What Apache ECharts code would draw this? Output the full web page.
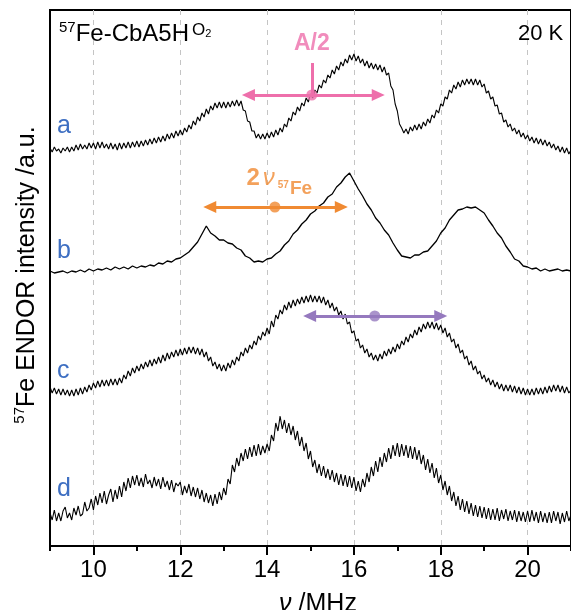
<!DOCTYPE html>
<html><head><meta charset="utf-8">
<script src="https://cdn.jsdelivr.net/npm/echarts@6/dist/echarts.min.js"></script>
<style>html,body{margin:0;padding:0;background:#fff}#c{width:571px;height:610px}</style>
</head><body><div id="c"></div>
<script>
// ---------------- data ----------------
const freq = [
 9,9.1,9.2,9.3,9.4,9.5,9.6,9.7,9.8,9.9,
 10,10.1,10.2,10.3,10.4,10.5,10.6,10.7,10.8,10.9,
 11,11.1,11.2,11.3,11.4,11.5,11.6,11.7,11.8,11.9,
 12,12.1,12.2,12.3,12.4,12.5,12.6,12.7,12.8,12.9,
 13,13.1,13.2,13.3,13.4,13.5,13.6,13.7,13.8,13.9,
 14,14.1,14.2,14.3,14.4,14.5,14.6,14.7,14.8,14.9,
 15,15.1,15.2,15.3,15.4,15.5,15.6,15.7,15.8,15.9,
 16,16.1,16.2,16.3,16.4,16.5,16.6,16.7,16.8,16.9,
 17,17.1,17.2,17.3,17.4,17.5,17.6,17.7,17.8,17.9,
 18,18.1,18.2,18.3,18.4,18.5,18.6,18.7,18.8,18.9,
 19,19.1,19.2,19.3,19.4,19.5,19.6,19.7,19.8,19.9,
 20,20.1,20.2,20.3,20.4,20.5,20.6,20.7,20.8,20.9,
 21];
const freqFine = [
 9,9.05,9.1,9.15,9.2,9.25,9.3,9.35,9.4,9.45,9.5,9.55,9.6,9.65,9.7,9.75,9.8,9.85,9.9,9.95,
 10,10.05,10.1,10.15,10.2,10.25,10.3,10.35,10.4,10.45,10.5,10.55,10.6,10.65,10.7,10.75,10.8,10.85,10.9,10.95,
 11,11.05,11.1,11.15,11.2,11.25,11.3,11.35,11.4,11.45,11.5,11.55,11.6,11.65,11.7,11.75,11.8,11.85,11.9,11.95,
 12,12.05,12.1,12.15,12.2,12.25,12.3,12.35,12.4,12.45,12.5,12.55,12.6,12.65,12.7,12.75,12.8,12.85,12.9,12.95,
 13,13.05,13.1,13.15,13.2,13.25,13.3,13.35,13.4,13.45,13.5,13.55,13.6,13.65,13.7,13.75,13.8,13.85,13.9,13.95,
 14,14.05,14.1,14.15,14.2,14.25,14.3,14.35,14.4,14.45,14.5,14.55,14.6,14.65,14.7,14.75,14.8,14.85,14.9,14.95,
 15,15.05,15.1,15.15,15.2,15.25,15.3,15.35,15.4,15.45,15.5,15.55,15.6,15.65,15.7,15.75,15.8,15.85,15.9,15.95,
 16,16.05,16.1,16.15,16.2,16.25,16.3,16.35,16.4,16.45,16.5,16.55,16.6,16.65,16.7,16.75,16.8,16.85,16.9,16.95,
 17,17.05,17.1,17.15,17.2,17.25,17.3,17.35,17.4,17.45,17.5,17.55,17.6,17.65,17.7,17.75,17.8,17.85,17.9,17.95,
 18,18.05,18.1,18.15,18.2,18.25,18.3,18.35,18.4,18.45,18.5,18.55,18.6,18.65,18.7,18.75,18.8,18.85,18.9,18.95,
 19,19.05,19.1,19.15,19.2,19.25,19.3,19.35,19.4,19.45,19.5,19.55,19.6,19.65,19.7,19.75,19.8,19.85,19.9,19.95,
 20,20.05,20.1,20.15,20.2,20.25,20.3,20.35,20.4,20.45,20.5,20.55,20.6,20.65,20.7,20.75,20.8,20.85,20.9,20.95,
 21];
const traceA = [
 2,-2,3,-1,1,-3,2,-1,3,-2, 3,-1,5,0,6,1,5,1,7,2,
 7,1,8,2,8,2,6,1,7,1, 6,0,7,1,7,2,8,2,8,3,
 9,3,9,4,10,5,11,6,12,7, 13,8,14,9,16,11,17,12,19,14,
 20,15,22,18,25,21,29,25,33,29, 37,33,41,36,44,40,47,42,48,42,
 48,42,48,43,49,44,50,44,49,40, 39,29,28,19,19,12,16,11,16,11,
 17,12,18,13,20,15,22,18,26,23, 32,29,38,35,43,39,47,44,52,48,
 56,52,60,57,65,62,70,67,75,72, 80,76,84,80,88,84,91,87,95,90,
 96,89,94,87,91,84,89,82,87,81, 86,80,85,78,83,75,77,64,60,46,
 39,26,22,17,21,16,23,19,25,20, 26,21,28,24,31,27,35,32,40,37,
 46,44,53,51,60,57,65,61,68,63, 70,65,71,66,71,65,71,65,70,63,
 66,57,59,51,53,44,45,36,37,28, 30,23,26,19,22,16,20,13,17,11,
 15,9,13,7,12,6,11,5,10,4, 8,2,6,0,4,-2,3,-3,2,-4,
 0];
const traceB = [
 1,-1,0,1,-1,1,0,2,0,3,
 1,3,2,4,2,5,3,5,3,6,
 4,6,5,7,6,9,8,11,10,13,
 14,17,20,25,30,38,46,39,36,32,
 32,29,28,24,22,16,14,10,11,10,
 13,14,18,21,27,31,38,42,48,52,
 58,61,66,69,75,78,85,89,95,99,
 91,83,76,68,62,54,49,42,37,29,
 22,16,15,14,17,17,20,21,26,31,
 39,44,52,57,62,63,65,64,65,62,
 59,52,46,39,34,26,20,13,11,6,
 5,3,4,1,3,1,2,3,1,2,
 1];
const traceC = [
 5,-1,4,-2,3,-3,3,-3,2,-4, 2,-4,3,-3,4,-2,5,0,7,2,
 9,4,11,5,12,6,12,6,13,7, 13,7,14,9,17,13,21,16,24,19,
 26,21,28,23,30,25,32,26,33,28, 35,29,37,31,39,33,40,35,42,36,
 43,37,44,38,45,39,45,38,44,37, 43,35,40,31,35,26,30,23,28,21,
 27,21,29,24,32,27,35,31,40,36, 44,39,47,43,51,47,56,52,60,56,
 64,58,71,65,77,73,82,78,87,82, 90,84,92,86,93,88,95,89,96,90,
 97,90,96,90,96,89,95,87,92,84, 89,81,85,77,81,73,78,68,70,59,
 61,51,53,44,47,39,43,35,39,32, 37,31,38,33,41,36,43,38,45,40,
 48,43,51,47,55,50,58,54,62,57, 65,60,68,63,70,64,70,63,69,62,
 67,59,64,55,59,50,53,44,48,39, 42,33,36,27,31,22,26,18,21,13,
 17,10,14,7,12,5,10,3,8,1, 7,1,7,0,6,-1,5,-2,4,-3,
 3,-3,3,-3,4,-2,4,-2,5,-1, 6,0,7,1,7,0,6,-1,5,-1,
 2];
const traceD = [
 4,-3,7,-4,4,-4,6,10,-1,4, -3,9,2,11,1,3,15,6,9,18,
 7,21,12,24,14,26,13,22,28,15, 27,18,31,20,35,26,39,29,41,32,
 42,31,39,30,43,33,37,29,40,31, 38,28,40,30,36,27,37,25,34,31,
 35,22,31,24,33,21,30,20,29,18, 27,15,24,14,22,11,23,13,25,17,
 29,22,38,33,52,45,59,51,64,56, 68,58,70,60,72,61,73,62,71,64,
 73,66,82,76,94,86,101,88,97,84, 94,82,91,77,86,71,80,66,74,58,
 66,50,57,44,53,41,51,39,48,37, 47,35,44,32,43,31,42,30,41,29,
 40,26,36,25,38,30,44,35,50,41, 56,45,60,50,64,55,69,58,72,61,
 74,60,73,61,72,59,71,58,70,57, 67,53,62,47,58,44,54,39,49,34,
 42,27,36,22,31,16,25,11,21,7, 18,5,16,3,14,1,12,0,11,-1,
 10,-2,9,-3,8,-3,9,-4,7,-2, 8,-4,6,-3,7,-5,6,-4,5,-5,
 6,-5,7,-4,5,-6,6,-5,4,-6, 5,-6,6,-4,5,-7,4,-5,6,-4,
 2];
const traceNames = ['a','b','c','d'];
const tickLabels = ['9','10','11','12','13','14','15','16','17','18','19','20','21'];
// annotation arrows (MHz) and level (a.u.)
const arrowFrom = [13.57, 12.68, 14.98];
const arrowTo = [16.56, 15.71, 18.00];
const arrowMid = [15.03, 14.18, 16.48];
const arrowLevel = [451, 339, 230];
const halfA = {x: 15.03, top: 483, labelY: 502};
const nuLabel = {x: 14.28, y: 363.5};

// ---------------- layout / style ----------------
const offsets = [396, 274, 154, 29];
const annColors = ['#EE6FAB', '#F08A32', '#9579BE'];
const blue = '#3E6FC2';
const FONT = 'Liberation Sans, Arial, sans-serif';

const chart = echarts.init(document.getElementById('c'), null, {renderer: 'canvas'});
const traces = [traceA, traceB, traceC, traceD];
const xs = [freqFine, freq, freqFine, freqFine];
const widths = [1.1, 1.3, 1.1, 1.1];
const series = traces.map((t, k) => ({
  type: 'line', name: traceNames[k], showSymbol: false, symbol: 'none',
  sampling: 'none', animation: false, silent: true, z: 2,
  lineStyle: {color: '#000', width: widths[k]},
  data: xs[k].map((f, i) => [f, t[i] + offsets[k]])
}));
arrowFrom.forEach((_, k) => {
  const mlData = [[{coord: [arrowFrom[k], arrowLevel[k]]}, {coord: [arrowTo[k], arrowLevel[k]]}]];
  if (k === 0) mlData.push([{coord: [halfA.x, arrowLevel[k]], symbol: 'none'}, {coord: [halfA.x, halfA.top], symbol: 'none'}]);
  series.push({
    type: 'scatter', animation: false, silent: true, z: 10,
    symbolSize: 11, itemStyle: {color: annColors[k]},
    data: [[arrowMid[k], arrowLevel[k]]],
    markLine: {
      silent: true, animation: false, symbol: ['triangle', 'triangle'], symbolSize: [12, 13],
      label: {show: false}, emphasis: {disabled: true},
      lineStyle: {color: annColors[k], width: 3, type: 'solid'},
      data: mlData
    }
  });
});
// text annotations
series.push({
  type: 'scatter', animation: false, silent: true, z: 11, symbolSize: 1,
  itemStyle: {color: 'rgba(0,0,0,0)'},
  data: [[halfA.x, halfA.labelY]],
  label: {show: true, position: 'inside', formatter: 'A/2', color: annColors[0],
    fontFamily: FONT, fontSize: 23, fontWeight: 'bold'}
});
series.push({
  type: 'scatter', animation: false, silent: true, z: 11, symbolSize: 1,
  itemStyle: {color: 'rgba(0,0,0,0)'},
  data: [[nuLabel.x, nuLabel.y]],
  label: {show: true, position: 'inside', formatter: '{n|2}{nu|ν}{s|57}{fe|Fe}',
    rich: {
      n: {fontSize: 24, fontWeight: 'bold', color: annColors[1], fontFamily: FONT, verticalAlign: 'bottom', padding: [0, 0, 8, 0]},
      nu: {fontSize: 24, fontStyle: 'italic', color: annColors[1], fontFamily: FONT, verticalAlign: 'bottom', padding: [0, 0, 8, 3]},
      s: {fontSize: 10, fontWeight: 'bold', color: annColors[1], fontFamily: FONT, verticalAlign: 'bottom', padding: [0, 0, 8, 3]},
      fe: {fontSize: 19, fontWeight: 'bold', color: annColors[1], fontFamily: FONT, verticalAlign: 'bottom', padding: [0, 0, 0, 1]}
    }}
});

const evenIdx = (i) => i % 2 === 1;
const option = {
  animation: false,
  backgroundColor: '#fff',
  grid: {left: 50, top: 10, width: 529, height: 536, show: true, borderColor: '#000', borderWidth: 2, backgroundColor: 'transparent'},
  xAxis: [
    {type: 'value', min: 9, max: 21, interval: 1, position: 'bottom',
     axisLine: {show: false}, axisLabel: {show: false}, splitLine: {show: false},
     axisTick: {show: true, length: 5, lineStyle: {color: '#000', width: 2}}},
    {type: 'category', data: tickLabels, boundaryGap: false, position: 'bottom', gridIndex: 0,
     axisLine: {show: false},
     axisTick: {show: true, interval: evenIdx, length: 9, lineStyle: {color: '#000', width: 2}},
     axisLabel: {show: true, interval: evenIdx, margin: 12, color: '#000', fontSize: 24, fontFamily: FONT},
     splitLine: {show: true, interval: evenIdx, lineStyle: {color: '#c4c4c4', width: 1, type: [5, 5]}}}
  ],
  yAxis: {type: 'value', min: 0, max: 536, show: true,
    axisLine: {show: false}, axisTick: {show: false}, axisLabel: {show: false}, splitLine: {show: false}},
  series: series,
  graphic: [
    {type: 'text', x: 59, y: 20.4, silent: true, z: 20, style: {
      text: '{s|57}{m|Fe-CbA5H}{o|O}{t|2}', verticalAlign: 'top', align: 'left',
      rich: {
        s: {fontSize: 15, fontFamily: FONT, fill: '#000', verticalAlign: 'bottom', padding: [0, 0, 11, 0]},
        m: {fontSize: 24, fontFamily: FONT, fill: '#000', verticalAlign: 'bottom'},
        o: {fontSize: 17, fontFamily: FONT, fill: '#000', verticalAlign: 'bottom', padding: [0, 0, 8, 3]},
        t: {fontSize: 11, fontFamily: FONT, fill: '#000', verticalAlign: 'bottom', padding: [0, 0, 7, 0]}
      }}},
    {type: 'text', x: 518, y: 34, silent: true, z: 20, style: {
      text: '20 K', font: '22px ' + FONT, fill: '#000', verticalAlign: 'middle', align: 'left'}},
    {type: 'text', x: 26, y: 275, rotation: Math.PI / 2, silent: true, z: 20, style: {
      text: '{s|57}{m|Fe ENDOR intensity /a.u.}', align: 'center', verticalAlign: 'middle',
      rich: {
        s: {fontSize: 15, fontFamily: FONT, fill: '#000', verticalAlign: 'bottom', padding: [0, 0, 12, 0]},
        m: {fontSize: 25, fontFamily: FONT, fill: '#000', verticalAlign: 'bottom'}
      }}},
    {type: 'text', x: 318, y: 604, silent: true, z: 20, style: {
      text: '{i|ν}{m| /MHz}', align: 'center', verticalAlign: 'middle',
      rich: {
        i: {fontSize: 25, fontStyle: 'italic', fontFamily: FONT, fill: '#000'},
        m: {fontSize: 25, fontFamily: FONT, fill: '#000'}
      }}}
  ].concat(traceNames.map((n, k) => ({
    type: 'text', x: 57, y: [126, 251, 371, 489][k], silent: true, z: 20,
    style: {text: n, font: '25px ' + FONT, fill: blue, verticalAlign: 'middle', align: 'left'}
  })))
};
chart.setOption(option);
</script>
</body></html>
